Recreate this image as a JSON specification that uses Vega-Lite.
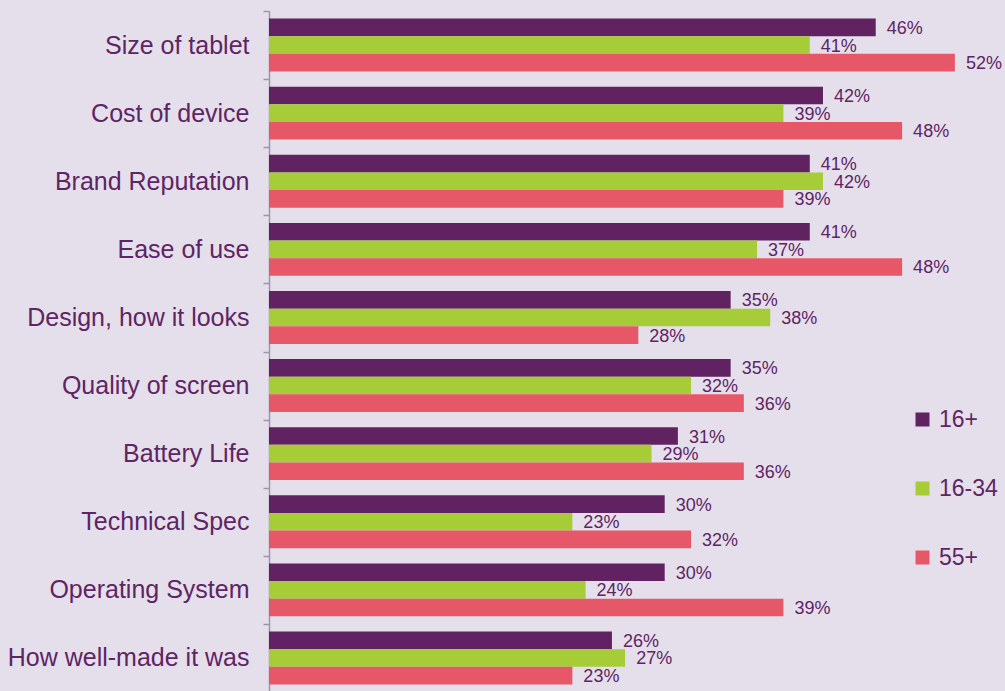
{
  "$schema": "https://vega.github.io/schema/vega-lite/v6.json",
  "width": 736,
  "height": 681,
  "autosize": {"type": "none"},
  "padding": {"left": 269, "top": 11, "right": 0, "bottom": 0},
  "background": "#e5dfec",
  "config": {"view": {"stroke": null}, "font": "Liberation Sans"},
  "data": {"values": [
    {"item": "Size of tablet", "group": "16+", "pct": 0.46},
    {"item": "Size of tablet", "group": "16-34", "pct": 0.41},
    {"item": "Size of tablet", "group": "55+", "pct": 0.52},
    {"item": "Cost of device", "group": "16+", "pct": 0.42},
    {"item": "Cost of device", "group": "16-34", "pct": 0.39},
    {"item": "Cost of device", "group": "55+", "pct": 0.48},
    {"item": "Brand Reputation", "group": "16+", "pct": 0.41},
    {"item": "Brand Reputation", "group": "16-34", "pct": 0.42},
    {"item": "Brand Reputation", "group": "55+", "pct": 0.39},
    {"item": "Ease of use", "group": "16+", "pct": 0.41},
    {"item": "Ease of use", "group": "16-34", "pct": 0.37},
    {"item": "Ease of use", "group": "55+", "pct": 0.48},
    {"item": "Design, how it looks", "group": "16+", "pct": 0.35},
    {"item": "Design, how it looks", "group": "16-34", "pct": 0.38},
    {"item": "Design, how it looks", "group": "55+", "pct": 0.28},
    {"item": "Quality of screen", "group": "16+", "pct": 0.35},
    {"item": "Quality of screen", "group": "16-34", "pct": 0.32},
    {"item": "Quality of screen", "group": "55+", "pct": 0.36},
    {"item": "Battery Life", "group": "16+", "pct": 0.31},
    {"item": "Battery Life", "group": "16-34", "pct": 0.29},
    {"item": "Battery Life", "group": "55+", "pct": 0.36},
    {"item": "Technical Spec", "group": "16+", "pct": 0.30},
    {"item": "Technical Spec", "group": "16-34", "pct": 0.23},
    {"item": "Technical Spec", "group": "55+", "pct": 0.32},
    {"item": "Operating System", "group": "16+", "pct": 0.30},
    {"item": "Operating System", "group": "16-34", "pct": 0.24},
    {"item": "Operating System", "group": "55+", "pct": 0.39},
    {"item": "How well-made it was", "group": "16+", "pct": 0.26},
    {"item": "How well-made it was", "group": "16-34", "pct": 0.27},
    {"item": "How well-made it was", "group": "55+", "pct": 0.23}
  ]},
  "encoding": {
    "y": {
      "field": "item", "type": "nominal", "sort": null,
      "scale": {"paddingInner": 0, "paddingOuter": 0},
      "axis": {
        "title": null, "tickBand": "extent", "domainColor": "#a095a8", "domainWidth": 1.5,
        "tickColor": "#a095a8", "tickSize": 6, "tickWidth": 1.5,
        "labelFontSize": 25, "labelColor": "#5f2463", "labelPadding": 14, "labelLimit": 300
      }
    },
    "yOffset": {
      "field": "group", "type": "nominal", "sort": ["16+", "16-34", "55+"],
      "scale": {"paddingInner": 0, "paddingOuter": 0.43}
    },
    "x": {"field": "pct", "type": "quantitative", "scale": {"domain": [0, 0.558]}, "axis": null}
  },
  "layer": [
    {
      "mark": {"type": "bar"},
      "encoding": {
        "color": {
          "field": "group", "type": "nominal",
          "scale": {"domain": ["16+", "16-34", "55+"], "range": ["#612261", "#a6cd37", "#e65868"]},
          "legend": {
            "title": null, "orient": "none", "legendX": 642, "legendY": 397,
            "symbolType": "square", "symbolSize": 196, "symbolStrokeWidth": 0, "symbolOpacity": 1,
            "labelFontSize": 23, "labelColor": "#5f2463", "rowPadding": 45, "labelOffset": 5
          }
        }
      }
    },
    {
      "mark": {"type": "text", "align": "left", "baseline": "middle", "dx": 11, "dy": 1.5, "fontSize": 18, "color": "#5f2463"},
      "encoding": {"text": {"field": "pct", "type": "quantitative", "format": ".0%"}}
    }
  ]
}
